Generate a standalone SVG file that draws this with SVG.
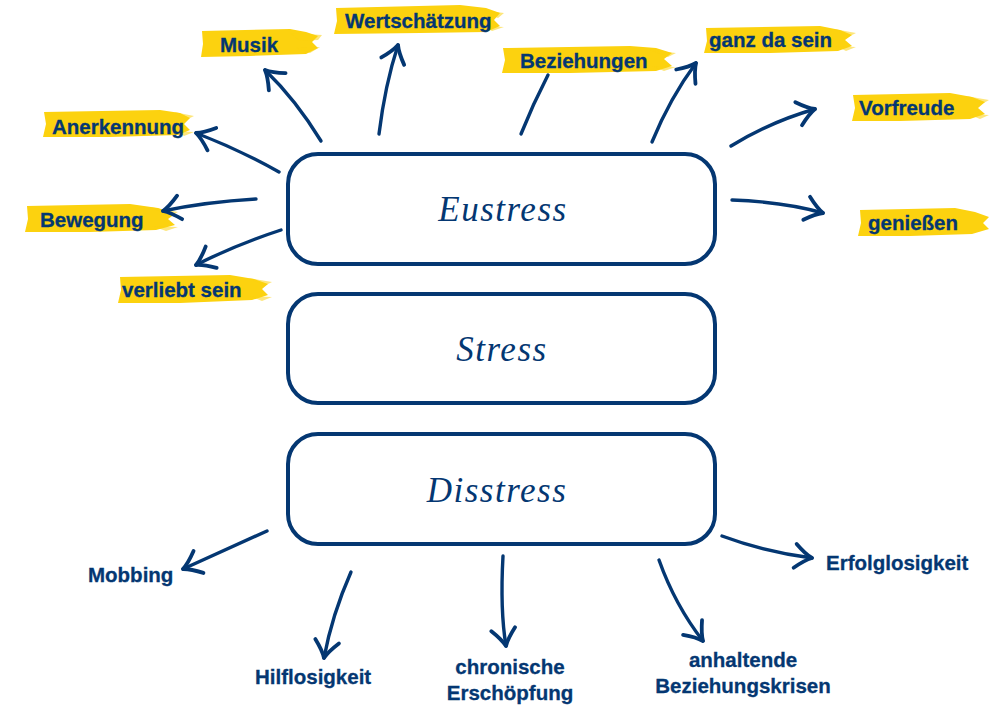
<svg xmlns="http://www.w3.org/2000/svg" width="989" height="707" viewBox="0 0 989 707">
<style>
.box{fill:#fff;stroke:#043772;stroke-width:4}
.title{font-family:"Liberation Serif","DejaVu Serif",serif;font-style:italic;font-size:35px;fill:#043772;text-anchor:middle;letter-spacing:1.5px}
.lbl{font-family:"Liberation Sans","DejaVu Sans",sans-serif;font-weight:bold;font-size:20.5px;fill:#043772;stroke:#043772;stroke-width:0.3}
.mid{text-anchor:middle}
.hl{fill:#fcd20f}
.hl2{fill:#fcd20f;opacity:0.55}
.arr{fill:none;stroke:#043772;stroke-width:3.4;stroke-linecap:round;marker-end:url(#head)}
.ln{fill:none;stroke:#043772;stroke-width:3.4;stroke-linecap:round}
</style>
<defs>
<marker id="head" markerUnits="userSpaceOnUse" markerWidth="44" markerHeight="44" viewBox="-22 -22 44 44" refX="0" refY="0" orient="auto">
<path d="M -17 -12 Q -7 -3 0 0 Q -7 3 -17 12" fill="none" stroke="#043772" stroke-width="3.8" stroke-linecap="round" stroke-linejoin="round"/>
</marker>
</defs>
<rect width="989" height="707" fill="#fff"/>

<g id="highlights">
<path class="hl" d="M202 31 L290 29 L306 32 L318 36 L312 42 L318 48 L306 54 L250 56 L201 57 L203 44 Z"/>
<path class="hl2" d="M290 33 L322 35 L318 40 L300 41 Z M296 48 L320 47 L310 53 Z"/>
<path class="hl" d="M336 8 L460 5 L486 8 L500 13 L494 20 L500 26 L486 32 L420 33 L334 34 L337 21 Z"/>
<path class="hl2" d="M480 10 L504 13 L498 18 Z M484 26 L504 27 L492 31 Z"/>
<path class="hl" d="M503 48 L630 46 L656 48 L672 53 L664 59 L672 66 L656 71 L570 73 L502 73 L505 60 Z"/>
<path class="hl2" d="M650 50 L676 53 L668 57 Z M652 66 L676 67 L664 71 Z"/>
<path class="hl" d="M706 28 L820 26 L840 30 L852 35 L845 40 L852 46 L838 51 L770 53 L704 53 L707 41 Z"/>
<path class="hl2" d="M834 29 L856 33 L848 37 Z M836 46 L856 47 L846 51 Z"/>
<path class="hl" d="M853 95 L950 93 L972 97 L985 102 L978 108 L985 114 L970 119 L900 121 L852 121 L855 108 Z"/>
<path class="hl2" d="M966 96 L989 100 L982 104 Z M968 114 L989 115 L980 119 Z"/>
<path class="hl" d="M860 210 L955 208 L975 212 L989 217 L983 223 L989 229 L972 234 L910 236 L858 236 L861 223 Z"/>
<path class="hl" d="M44 112 L160 110 L180 113 L190 118 L184 124 L190 130 L178 135 L110 137 L43 137 L46 124 Z"/>
<path class="hl2" d="M174 112 L194 116 L186 120 Z M176 131 L194 132 L184 136 Z"/>
<path class="hl" d="M27 206 L130 204 L158 208 L175 214 L168 219 L175 225 L156 230 L90 232 L25 232 L28 219 Z"/>
<path class="hl2" d="M150 207 L178 212 L170 216 Z M152 226 L178 227 L166 231 Z"/>
<path class="hl" d="M120 277 L230 275 L254 279 L268 284 L262 289 L268 295 L252 300 L180 303 L118 303 L121 290 Z"/>
<path class="hl2" d="M248 278 L272 282 L264 286 Z M250 296 L272 297 L262 301 Z"/>
</g>

<g id="connectors">
<path class="arr" d="M321 141 Q 296 100 265 70"/>
<path class="arr" d="M379 134 Q 385 85 398 45"/>
<path class="arr" d="M279 172 Q 240 150 196 133"/>
<path class="arr" d="M256 199 Q 205 202 163 211"/>
<path class="arr" d="M281 230 Q 235 245 196 265"/>
<path class="ln" d="M521 134 Q 533 104 548 75"/>
<path class="arr" d="M652 142 Q 670 98 696 63"/>
<path class="arr" d="M731 146 Q 770 122 815 109"/>
<path class="arr" d="M732 200 Q 785 202 823 213"/>
<path class="arr" d="M267 531 Q 225 550 183 569"/>
<path class="arr" d="M351 572 Q 332 615 324 658"/>
<path class="arr" d="M503 556 Q 500 610 506 646"/>
<path class="arr" d="M659 560 Q 675 605 703 641"/>
<path class="arr" d="M722 536 Q 765 552 812 558"/>
</g>

<g id="eustress">
<rect class="box" x="288" y="154" width="427" height="110" rx="30"/>
<text class="title" x="503" y="221">Eustress</text>
</g>
<g id="stress">
<rect class="box" x="288" y="294" width="427" height="109" rx="30"/>
<text class="title" x="502" y="361">Stress</text>
</g>
<g id="disstress">
<rect class="box" x="288" y="434" width="427" height="110" rx="30"/>
<text class="title" x="497" y="502">Disstress</text>
</g>

<g id="label-musik"><text class="lbl" x="220" y="52">Musik</text></g>
<g id="label-wertschaetzung"><text class="lbl" x="345" y="28">Wertschätzung</text></g>
<g id="label-beziehungen"><text class="lbl" x="520" y="68">Beziehungen</text></g>
<g id="label-ganz"><text class="lbl" x="709" y="47">ganz da sein</text></g>
<g id="label-vorfreude"><text class="lbl" x="859" y="115">Vorfreude</text></g>
<g id="label-geniessen"><text class="lbl" x="868" y="230">genießen</text></g>
<g id="label-anerkennung"><text class="lbl" x="52" y="134">Anerkennung</text></g>
<g id="label-bewegung"><text class="lbl" x="40" y="227">Bewegung</text></g>
<g id="label-verliebt"><text class="lbl" x="122" y="297">verliebt sein</text></g>
<g id="label-mobbing"><text class="lbl" x="88" y="582">Mobbing</text></g>
<g id="label-hilflosigkeit"><text class="lbl" x="255" y="684">Hilflosigkeit</text></g>
<g id="label-chronisch"><text class="lbl mid" x="510" y="674">chronische</text><text class="lbl mid" x="510" y="700">Erschöpfung</text></g>
<g id="label-anhaltend"><text class="lbl mid" x="743" y="667">anhaltende</text><text class="lbl mid" x="743" y="693">Beziehungskrisen</text></g>
<g id="label-erfolglosigkeit"><text class="lbl" x="826" y="570">Erfolglosigkeit</text></g>
</svg>
